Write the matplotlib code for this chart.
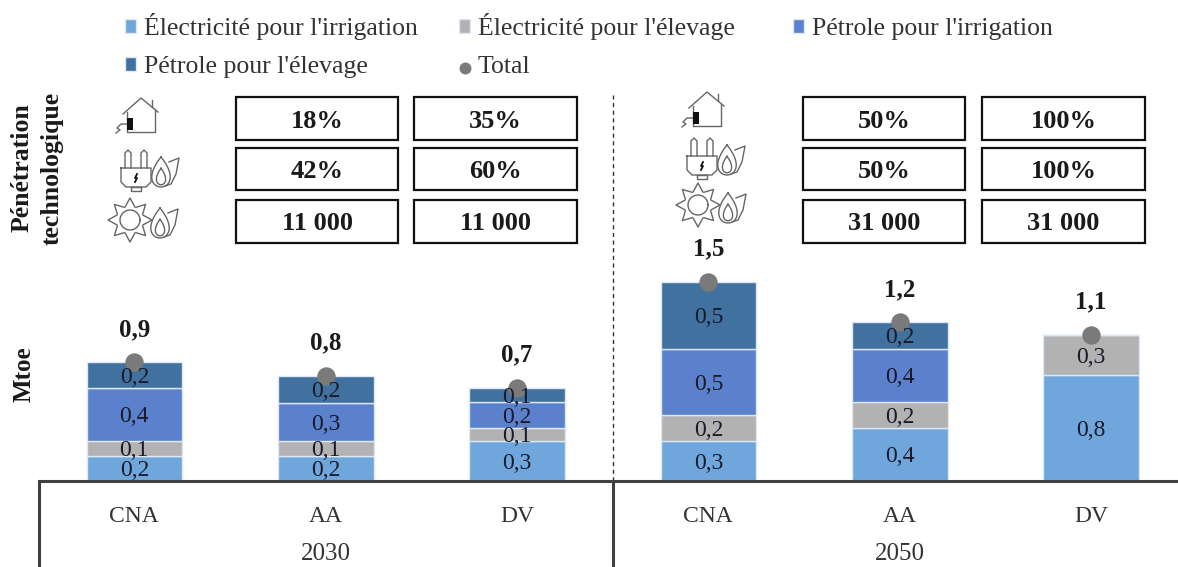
import matplotlib
matplotlib.use('Agg')
import matplotlib.pyplot as plt
import numpy as np
from matplotlib.lines import Line2D
from matplotlib.patches import Rectangle

plt.rcParams['font.family'] = ['Liberation Serif']

# Data
scenarios = ['CNA', 'AA', 'DV', 'CNA', 'AA', 'DV']
years = ['2030', '2050']
elec_irrigation = [0.19, 0.19, 0.30, 0.30, 0.40, 0.80]
elec_elevage = [0.11, 0.11, 0.10, 0.195, 0.195, 0.30]
petrole_irrigation = [0.40, 0.29, 0.195, 0.495, 0.40, 0.0]
petrole_elevage = [0.195, 0.20, 0.105, 0.51, 0.20, 0.0]
totals = [0.9, 0.8, 0.7, 1.5, 1.2, 1.1]
series_names = ["Électricité pour l'irrigation", "Électricité pour l'élevage",
                "Pétrole pour l'irrigation", "Pétrole pour l'élevage"]
series_colors = ['#6fa7dc', '#b2b2b2', '#5b80cc', '#41719f']
box_rows_2030 = [['18%', '35%'], ['42%', '60%'], ['11 000', '11 000']]
box_rows_2050 = [['50%', '100%'], ['50%', '100%'], ['31 000', '31 000']]

W, H = 1178, 567
fig = plt.figure(figsize=(W / 100, H / 100), dpi=100)


def fx(x):
    return x / W


def fy(y):
    return 1 - y / H


# Main axes: baseline at y=481 px, runs off the right edge like the original
ax = fig.add_axes([fx(38.7), fy(481), 1 - fx(38.7), 481 / H])
ax.set_xlim(-0.5, (1178 - 134) / 191.4)
ax.set_ylim(0, 481 / 133)
ax.patch.set_alpha(0)

x = np.arange(len(scenarios))
series = [elec_irrigation, elec_elevage, petrole_irrigation, petrole_elevage]
bottom = np.zeros(len(scenarios))
handles = []
for values, name, color in zip(series, series_names, series_colors):
    bars = ax.bar(x, values, 0.5, bottom=bottom, color=color, edgecolor='#dce8f5',
                  linewidth=1.0, label=name)
    handles.append(bars)
    for xi, b, v in zip(x, bottom, values):
        if v > 0:
            ax.text(xi, b + v / 2, f'{v:.1f}'.replace('.', ','), ha='center', va='center_baseline',
                    fontsize=17, color='#1a1a2a', zorder=4)
    bottom = bottom + np.array(values)

total_pts = ax.scatter(x, bottom, s=150, color='#7a7a7a', zorder=3, label='Total', clip_on=False)
for xi, top, t in zip(x, bottom, totals):
    ax.annotate(f'{t:.1f}'.replace('.', ','), (xi, top), xytext=(0, 23.5), textcoords='offset points',
                ha='center', va='center', fontsize=18, fontweight='bold', color='#1a1a1a')

# Axis look
for s in ['top', 'left', 'right']:
    ax.spines[s].set_visible(False)
ax.spines['bottom'].set_color('#404040')
ax.spines['bottom'].set_linewidth(2.2)
ax.set_yticks([])
ax.set_xticks(x)
ax.set_xticklabels(scenarios, fontsize=17, color='#333333')
ax.tick_params(axis='x', length=0, pad=18)

# Year labels and separators
ax.text(1, -73 / 133, years[0], ha='center', va='center', fontsize=18, color='#333333', clip_on=False)
ax.text(4, -73 / 133, years[1], ha='center', va='center', fontsize=18, color='#333333', clip_on=False)
ax.plot([-0.5, -0.5], [0, -86 / 133], color='#404040', lw=2.2, clip_on=False)
ax.plot([2.5, 2.5], [0, -86 / 133], color='#404040', lw=2.2, clip_on=False)
ax.plot([2.5, 2.5], [0, 386 / 133], color='#333333', lw=1.0, ls=(0, (3, 2.5)), clip_on=False)

# Legend: one column per legend so the starts can follow the original
legend_cols = [(102, -10, [handles[0], handles[3]], [series_names[0], series_names[3]]),
               (436, -10, [handles[1], total_pts], [series_names[1], 'Total']),
               (770, -5, [handles[2]], [series_names[2]])]
for left, top, col_handles, col_labels in legend_cols:
    fig.legend(col_handles, col_labels, ncol=1, frameon=False, fontsize=18.5,
               loc='upper left', bbox_to_anchor=(fx(left), fy(top)),
               handlelength=0.42, handleheight=0.5, handletextpad=0.3,
               labelspacing=0.62, labelcolor='#333333', markerscale=0.62)

# Value boxes
box_cols_2030 = [(236, 398), (414, 577)]
box_cols_2050 = [(803, 965), (982, 1145)]
box_ys = [(97, 140), (148, 190), (200, 243)]
for cols, rows in [(box_cols_2030, box_rows_2030), (box_cols_2050, box_rows_2050)]:
    for (y0, y1), row in zip(box_ys, rows):
        for (x0, x1), txt in zip(cols, row):
            fig.add_artist(Rectangle((fx(x0), fy(y1)), (x1 - x0) / W, (y1 - y0) / H,
                                     transform=fig.transFigure, fc='white', ec='#111111', lw=1.6))
            fig.text(fx((x0 + x1) / 2), fy((y0 + y1) / 2), txt, ha='center', va='center_baseline',
                     fontsize=19, fontweight='bold', color='#1a1a1a')

# Side titles
fig.text(fx(22), fy(168), 'Pénétration', rotation=90, ha='center', va='center',
         fontsize=18.5, fontweight='bold', color='#1a1a1a')
fig.text(fx(52), fy(168), 'technologique', rotation=90, ha='center', va='center',
         fontsize=18.5, fontweight='bold', color='#1a1a1a')
fig.text(fx(24), fy(374), 'Mtoe', rotation=90, ha='center', va='center',
         fontsize=18, fontweight='bold', color='#1a1a1a')

# Icons, simple line drawings in pixel coordinates
icon_color = '#666666'


def stroke(xs, ys, lw=1.0, color=icon_color):
    fig.add_artist(Line2D([fx(v) for v in xs], [fy(v) for v in ys], color=color, lw=lw,
                          transform=fig.transFigure))


def ring(cx, cy, r):
    t = np.linspace(0, 2 * np.pi, 40)
    stroke(cx + r * np.cos(t), cy + r * np.sin(t))


def house(x0, y0):
    stroke(np.array([7, 25, 42]) + x0, np.array([16, 0, 14]) + y0)
    stroke(np.array([11, 11, 39, 39]) + x0, np.array([14, 34, 34, 12]) + y0)
    stroke(np.array([36, 36]) + x0, np.array([9, 2]) + y0)
    fig.add_artist(Rectangle((fx(x0 + 11), fy(y0 + 32)), 6 / W, 12 / H, transform=fig.transFigure,
                             fc='#111111', ec='none', zorder=3))
    stroke(np.array([11, 5, 1, 4, 0]) + x0, np.array([26, 26, 30, 32, 35]) + y0)


def leaves(x0, y0):
    t = np.linspace(0, 2 * np.pi, 40)
    xs = x0 + 12 + 12 * np.sin(t) * np.abs(np.sin(t / 2))
    ys = y0 + 22 - 15 * np.cos(t)
    stroke(xs, ys)
    stroke(xs * 0.5 + (x0 + 12) * 0.5, ys * 0.55 + (y0 + 32) * 0.45)
    stroke(np.array([20, 30, 27, 22, 16]) + x0, np.array([12, 8, 24, 34, 36]) + y0)


def plug(x0, y0):
    stroke(np.array([0, 30, 30, 25, 5, 0, 0]) + x0, np.array([18, 18, 32, 37, 37, 32, 18]) + y0)
    for dx in (4, 20):
        stroke(np.array([0, 0, 3, 6, 6]) + x0 + dx, np.array([18, 3, 0, 3, 18]) + y0)
    stroke(np.array([10, 10, 20, 20, 10]) + x0, np.array([37, 41, 41, 37, 37]) + y0)
    stroke(np.array([16, 14, 16, 14]) + x0, np.array([24, 28, 28, 32]) + y0, lw=1.3, color='#111111')
    leaves(x0 + 28, y0)


def sun(x0, y0):
    cx, cy = x0 + 18, y0 + 23
    ring(cx, cy, 10)
    for a in np.arange(0, 360, 45):
        r = np.deg2rad(a)
        stroke([cx + 14 * np.cos(r - 0.35), cx + 22 * np.cos(r), cx + 14 * np.cos(r + 0.35)],
               [cy + 14 * np.sin(r - 0.35), cy + 22 * np.sin(r), cy + 14 * np.sin(r + 0.35)])
    leaves(x0 + 36, y0 + 4)


house(116, 98)
plug(121, 150)
sun(112, 197)
house(682, 92)
plug(687, 138)
sun(680, 182)

fig.savefig('out.png', dpi=100)
